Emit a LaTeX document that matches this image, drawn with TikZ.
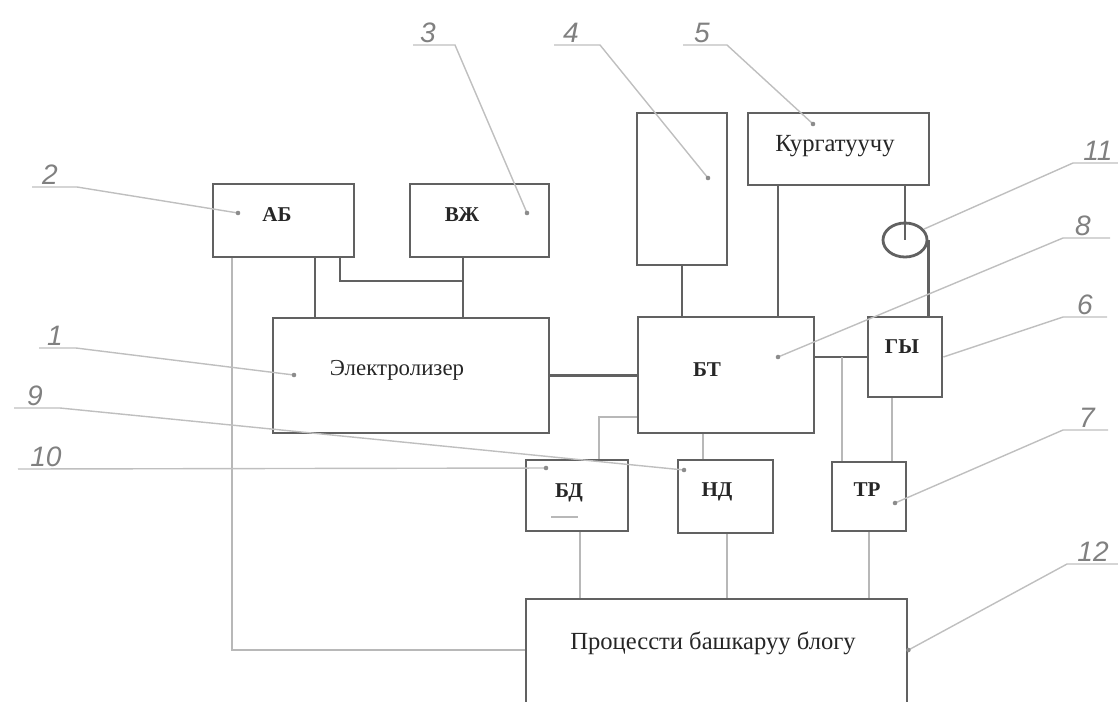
\documentclass[tikz,border=0pt]{standalone}
\usepackage{fontspec}
\setmainfont{Liberation Serif}
\setsansfont{Liberation Sans}
\usetikzlibrary{shapes.geometric}

\tikzset{
  blk/.style={draw=black!62, line width=1.6pt, inner sep=0pt},
  sz/.style 2 args={minimum width=#1*0.02cm, minimum height=#2*0.02cm},
  bus/.style={draw=black!62, line width=1.6pt},
  wire/.style={draw=black!28, line width=1pt},
  lead/.style={draw=black!25, line width=0.8pt},
  num/.style={font=\sffamily\itshape\fontsize{16}{16}\selectfont, text=black!50, inner sep=1pt, anchor=south},
  tag/.style={font=\bfseries\fontsize{12}{12}\selectfont, text=black!85, inner sep=0pt},
  txt/.style={font=\fontsize{14}{14}\selectfont, text=black!85, inner sep=0pt},
}

\begin{document}
\begin{tikzpicture}[x=0.02cm, y=-0.02cm]
\useasboundingbox (0,0) rectangle (1118,701);

% blocks
\node[blk, sz={141}{73}] (ab) at (283.5,220.5) {};
\node[blk, sz={139}{73}] (vzh) at (479.5,220.5) {};
\node[blk, sz={276}{115}] (el) at (411,375.5) {};
\node[blk, sz={90}{152}] (b4) at (682,189) {};
\node[blk, sz={181}{72}] (b5) at (838.5,149) {};
\node[blk, sz={176}{116}] (bt) at (726,375) {};
\node[blk, sz={74}{80}] (gy) at (905,357) {};
\node[blk, sz={102}{71}] (bd) at (577,495.5) {};
\node[blk, sz={95}{73}] (nd) at (725.5,496.5) {};
\node[blk, sz={74}{69}] (tr) at (869,496.5) {};
\node[blk, sz={381}{113}] (pb) at (716.5,655.5) {};
\node[blk, ellipse, sz={44}{34}] (cir) at (905,240) {};

% texts
\node[tag] (abT) at (277,215) {АБ};
\node[tag] (vzhT) at (462,215) {ВЖ};
\node[txt, font=\fontsize{13}{13}\selectfont] (elT) at (397,370) {Электролизер};
\node[tag] (btT) at (707,370) {БТ};
\node[tag] (gyT) at (902,347) {ГЫ};
\node[tag] (bdT) at (569,493) {БД};
\node[tag] (ndT) at (717,492) {НД};
\node[tag] (trT) at (867,490) {ТР};
\node[txt] (b5T) at (835,146) {Кургатуучу};
\node[txt] (pbT) at (713,643) {Процессти башкаруу блогу};
\draw[wire, line width=0.6pt] (551,517) -- (578,517);

% power lines
\coordinate (jn) at (463,281);
\draw[bus] (ab.south -| 315,0) -- (el.north -| 315,0);
\draw[bus] (ab.south -| 340,0) |- (jn);
\draw[bus] (vzh.south -| jn) -- (el.north -| jn);
\draw[bus] (el.east) -- (bt.west |- el.east);
\draw[bus] (b4.south) -- (b4.south |- bt.north);
\draw[bus] (b5.south -| 778,0) -- (bt.north -| 778,0);
\draw[bus] (bt.east |- gy.west) -- (gy.west);
\draw[bus] (b5.south -| cir) -- (cir.center);
\draw[bus] (cir.east) -- (cir.east |- gy.north);

% signal lines
\draw[wire] (842,357) -- (tr.north -| 842,0);
\draw[wire] (gy.south -| 892,0) -- (tr.north -| 892,0);
\draw[wire] (tr.south) -- (tr.south |- pb.north);
\draw[wire] (bt.west |- 0,417) -| (bd.north -| 599,0);
\draw[wire] (bt.south -| 703,0) -- (nd.north -| 703,0);
\draw[wire] (bd.south -| 580,0) -- (pb.north -| 580,0);
\draw[wire] (nd.south -| 727,0) -- (pb.north -| 727,0);
\draw[wire] (ab.south -| 232,0) |- (pb.west |- 0,650);

% position numbers
\coordinate (d1) at (294,375);
\coordinate (d2) at (238,213);
\coordinate (d3) at (527,213);
\coordinate (d4) at (708,178);
\coordinate (d5) at (813,124);
\coordinate (d7) at (895,503);
\coordinate (d8) at (778,357);
\coordinate (d9) at (684,470);
\coordinate (d10) at (546,468);
\coordinate (d12) at (pb.east |- 0,650);

\node[num] (n1) at (55,348) {1};
\node[num] (n2) at (50,187) {2};
\node[num] (n3) at (428,45) {3};
\node[num] (n4) at (571,45) {4};
\node[num] (n5) at (702,45) {5};
\node[num] (n6) at (1085,317) {6};
\node[num] (n7) at (1087,430) {7};
\node[num] (n8) at (1083,238) {8};
\node[num] (n9) at (35,408) {9};
\node[num] (n10) at (46,469) {10};
\node[num] (n11) at (1098,163) {11};
\node[num] (n12) at (1093,564) {12};

\draw[lead] (n1.south) ++(-16,0) -- ++(37,0) -- (d1);
\draw[lead] (n2.south) ++(-18,0) -- ++(45,0) -- (d2);
\draw[lead] (n3.south) ++(-15,0) -- ++(42,0) -- (d3);
\draw[lead] (n4.south) ++(-17,0) -- ++(46,0) -- (d4);
\draw[lead] (n5.south) ++(-19,0) -- ++(44,0) -- (d5);
\draw[lead] (n6.south) ++(22,0) -- ++(-44,0) -- (gy.east);
\draw[lead] (n7.south) ++(21,0) -- ++(-45,0) -- (d7);
\draw[lead] (n8.south) ++(27,0) -- ++(-47,0) -- (d8);
\draw[lead] (n9.south) ++(-21,0) -- ++(46,0) -- (d9);
\draw[lead] (n10.south) ++(-28,0) -- (d10);
\draw[lead] (n11.south) ++(20,0) -- ++(-45,0) -- (cir.30);
\draw[lead] (n12.south) ++(25,0) -- ++(-51,0) -- (d12);

\foreach \d in {d1,d2,d3,d4,d5,d7,d8,d9,d10,d12}
  \fill[black!45] (\d) circle (1.3pt);
\end{tikzpicture}
\end{document}
